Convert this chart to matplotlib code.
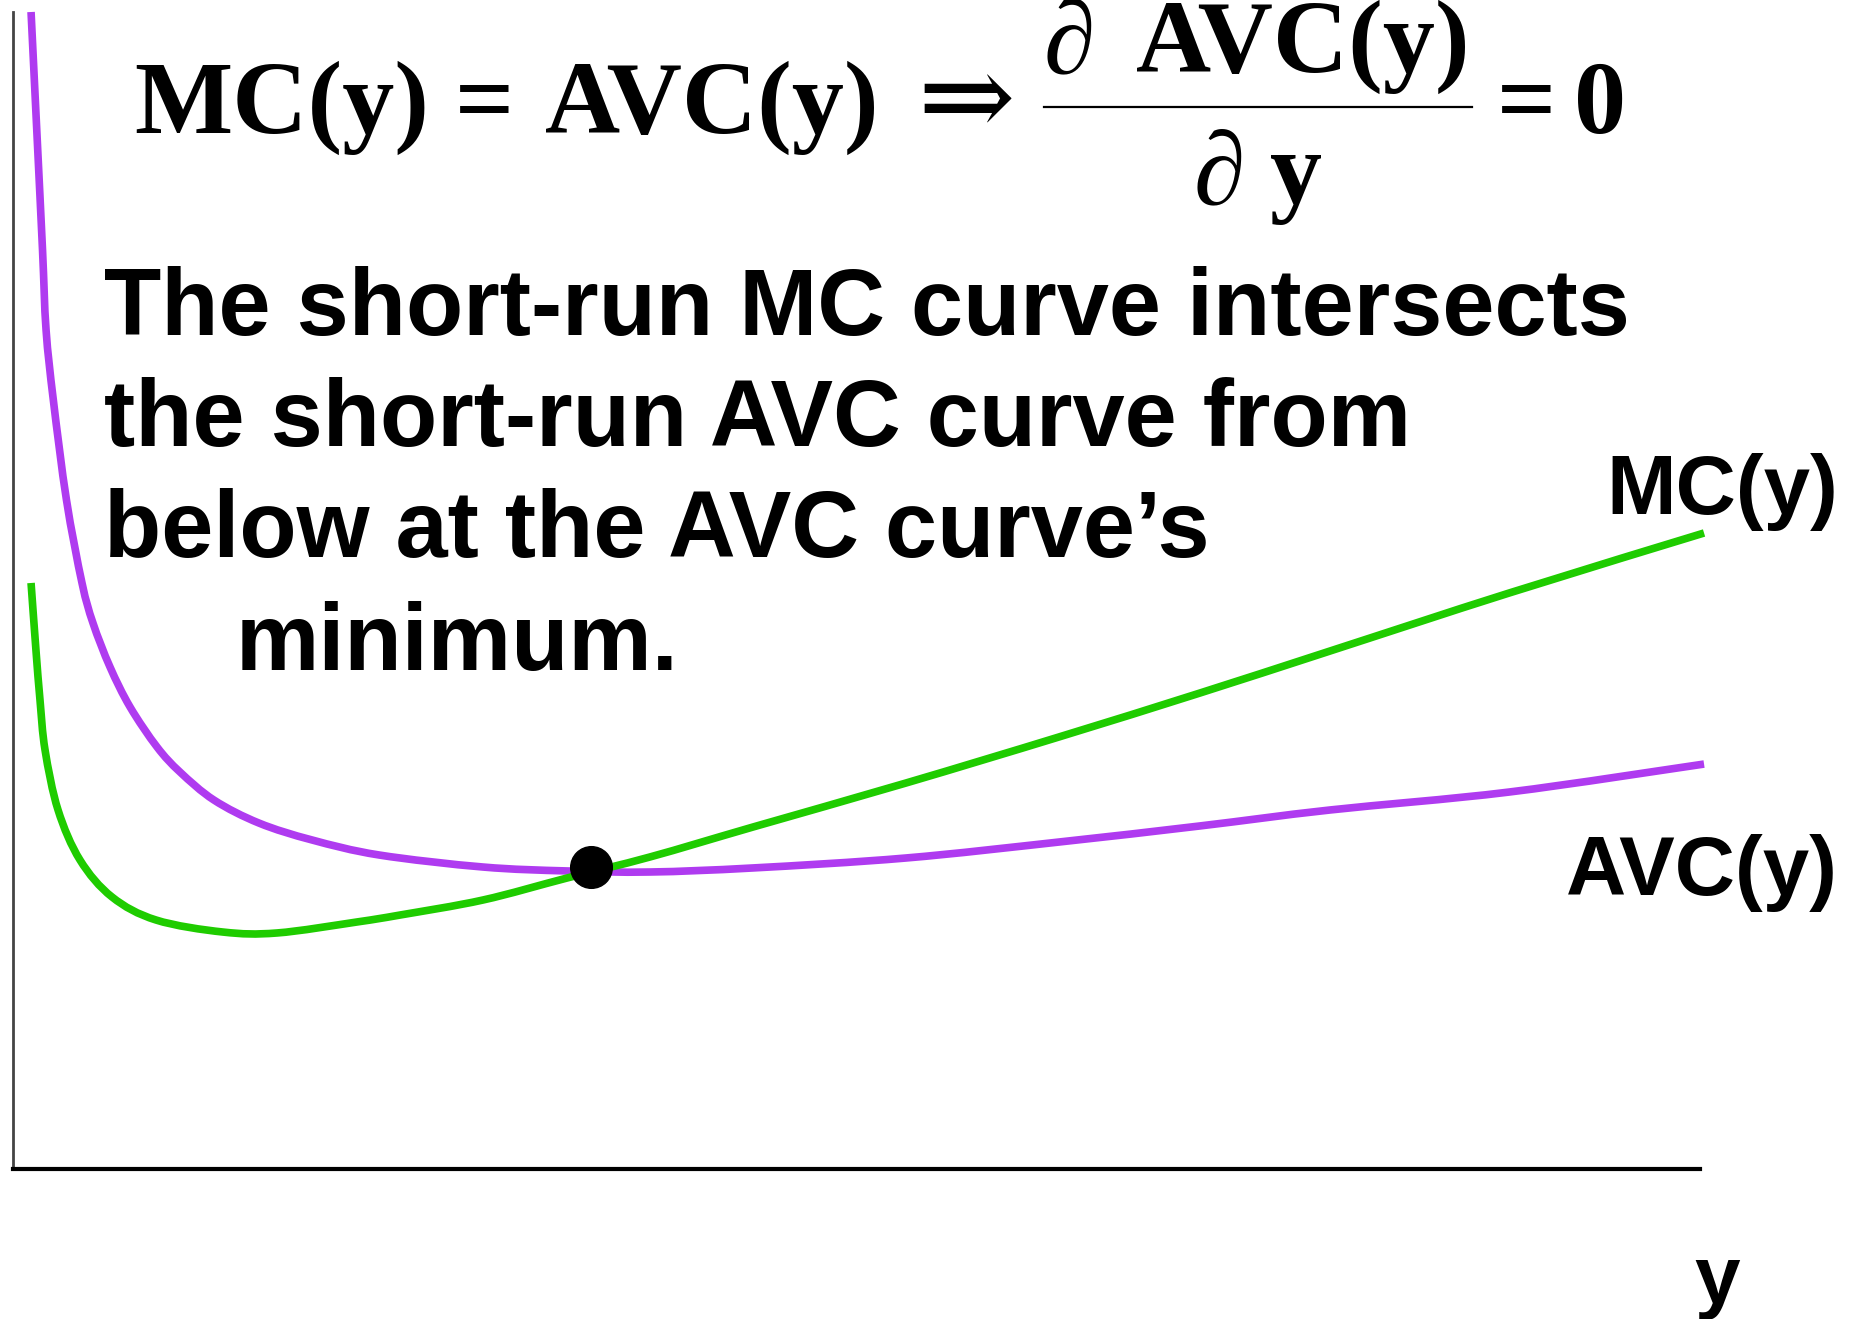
import matplotlib
matplotlib.use("Agg")
import matplotlib.pyplot as plt
import numpy as np
from matplotlib.lines import Line2D
from matplotlib.path import Path
from matplotlib.patches import PathPatch

W, H = 1854, 1319

# ---- data (quantity y on x-axis, cost on y-axis; arbitrary units 0..10) ----
avc_q = [0.107, 0.142, 0.175, 0.196, 0.239, 0.317, 0.409,
         0.474, 0.575, 0.694, 0.854, 0.990, 1.191, 1.458, 1.772, 2.170, 2.786,
         3.284, 3.776, 4.387, 5.293, 6.200, 7.036, 7.807, 8.868, 10.024]
avc_c = [10.00, 8.946, 7.943, 7.252, 6.647, 5.782, 5.065,
         4.719, 4.339, 3.993, 3.647, 3.431, 3.189, 2.990, 2.844, 2.714, 2.610,
         2.576, 2.567, 2.602, 2.688, 2.826, 2.965, 3.103, 3.258, 3.500]

mc_q = [0.107, 0.136, 0.160, 0.190, 0.267, 0.397, 0.587, 0.848, 1.245, 1.565,
        2.039, 2.294, 2.786, 3.284, 3.776, 4.387, 5.293, 6.200, 7.036, 7.807,
        8.868, 10.024]
mc_c = [5.065, 4.486, 4.054, 3.621, 3.103, 2.671, 2.351, 2.152, 2.048, 2.040,
        2.135, 2.195, 2.325, 2.515, 2.697, 2.956, 3.336, 3.734, 4.114, 4.477,
        4.978, 5.497]

min_point = (3.424, 2.613)

mc_label = "MC(y)"
avc_label = "AVC(y)"
x_label = "y"
body_lines = ["The short-run MC curve intersects",
              "the short-run AVC curve from",
              "below at the AVC curve\u2019s",
              "minimum."]

PURPLE = "#AF3BF0"
GREEN = "#1FCC00"


def smooth_path(xs, ys):
    """Catmull-Rom through the read points, rendered as matplotlib Bezier curves."""
    p = np.column_stack([xs, ys]).astype(float)
    n = len(p)
    verts = [p[0]]
    codes = [Path.MOVETO]
    for i in range(n - 1):
        p0 = p[i - 1] if i > 0 else p[i]
        p1, p2 = p[i], p[i + 1]
        p3 = p[i + 2] if i + 2 < n else p[i + 1]
        c1 = p1 + (p2 - p0) / 6.0
        c2 = p2 - (p3 - p1) / 6.0
        verts += [c1, c2, p2]
        codes += [Path.CURVE4] * 3
    return Path(verts, codes)


fig = plt.figure(figsize=(W / 100, H / 100), dpi=100)
fig.patch.set_facecolor("white")

ax_left, ax_right, ax_top, ax_bottom = 13, 1700, 12, 1169
ax = fig.add_axes([ax_left / W, 1 - ax_bottom / H,
                   (ax_right - ax_left) / W, (ax_bottom - ax_top) / H])
ax.set_xlim(0, 10)
ax.set_ylim(0, 10)
ax.set_xticks([])
ax.set_yticks([])
for s in ("top", "right"):
    ax.spines[s].set_visible(False)
ax.spines["left"].set_color("#444444")
ax.spines["left"].set_linewidth(2.0)
ax.spines["bottom"].set_color("black")
ax.spines["bottom"].set_linewidth(3.0)
ax.patch.set_alpha(0)

ax.add_patch(PathPatch(smooth_path(avc_q, avc_c), fill=False, edgecolor=PURPLE,
                       lw=5.5, capstyle="butt", clip_on=False, zorder=3))
ax.add_patch(PathPatch(smooth_path(mc_q, mc_c), fill=False, edgecolor=GREEN,
                       lw=5.5, capstyle="butt", clip_on=False, zorder=4))
ax.plot([min_point[0]], [min_point[1]], "o", color="black", markersize=30,
        zorder=5, clip_on=False)


def px(x, y):
    return x / W, 1 - y / H


sans = ["Liberation Sans", "DejaVu Sans"]
serif = ["Liberation Serif", "DejaVu Serif"]

# body text
body_pos = [(104, 335), (104, 446), (104, 557), (236, 670)]
for line, (x, y) in zip(body_lines, body_pos):
    fig.text(*px(x, y), line, family=sans, weight="bold", fontsize=67.5,
             ha="left", va="baseline", color="black")

# curve labels
fig.text(*px(1838, 514), mc_label, family=sans, weight="bold", fontsize=60,
         ha="right", va="baseline")
fig.text(*px(1838, 895), avc_label, family=sans, weight="bold", fontsize=60,
         ha="right", va="baseline")
fig.text(*px(1694, 1303), x_label, family=sans, weight="bold", fontsize=59,
         ha="left", va="baseline")

# equation
eq_fs = 75
fig.text(*px(134, 133), "MC(y)", family=serif, weight="bold", fontsize=eq_fs,
         ha="left", va="baseline")
fig.text(*px(485, 133), "=", family=serif, weight="bold", fontsize=eq_fs,
         ha="center", va="baseline")
fig.text(*px(545, 133), "AVC(y)", family=serif, weight="bold", fontsize=eq_fs,
         ha="left", va="baseline")
fig.text(*px(966, 136), "\u21D2", family=["DejaVu Serif"], fontsize=84,
         ha="center", va="baseline")
fig.text(*px(1044, 72), "\u2202", family=serif, fontsize=eq_fs,
         ha="left", va="baseline")
fig.text(*px(1470, 72), "AVC(y)", family=serif, weight="bold", fontsize=eq_fs,
         ha="right", va="baseline")
fig.text(*px(1194, 203), "\u2202", family=serif, fontsize=eq_fs,
         ha="left", va="baseline")
fig.text(*px(1322, 203), "y", family=serif, weight="bold", fontsize=eq_fs,
         ha="right", va="baseline")
fig.add_artist(Line2D([1044 / W, 1472 / W], [1 - 107 / H, 1 - 107 / H],
                      color="black", lw=1.6, transform=fig.transFigure))
fig.text(*px(1526, 133), "=", family=serif, weight="bold", fontsize=eq_fs,
         ha="center", va="baseline")
fig.text(*px(1600, 133), "0", family=serif, weight="bold", fontsize=eq_fs,
         ha="center", va="baseline")

fig.savefig("out.png", dpi=100, facecolor="white")
